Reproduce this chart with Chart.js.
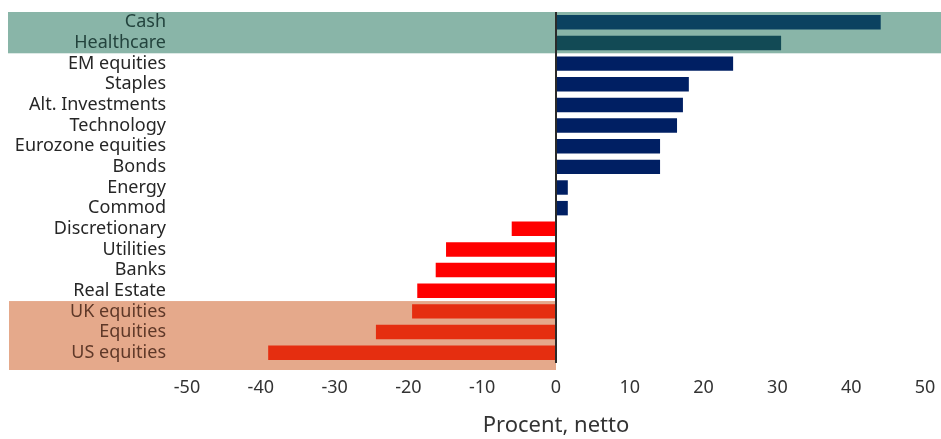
<!DOCTYPE html>
<html>
<head>
<meta charset="utf-8">
<script src="https://cdn.jsdelivr.net/npm/chart.js@4/dist/chart.umd.min.js"></script>
<style>
  html, body { margin: 0; padding: 0; background: #fff; }
  #wrap { width: 941px; height: 439px; position: relative; }
</style>
</head>
<body>
<div id="wrap"><canvas id="c"></canvas></div>
<script>
// Net allocation by asset class / sector, in percent
const categories = [
  'Cash', 'Healthcare', 'EM equities', 'Staples', 'Alt. Investments',
  'Technology', 'Eurozone equities', 'Bonds', 'Energy', 'Commod',
  'Discretionary', 'Utilities', 'Banks', 'Real Estate',
  'UK equities', 'Equities', 'US equities'
];
const netPercent = [
  44, 30.5, 24, 18, 17.2,
  16.4, 14.1, 14.1, 1.6, 1.6,
  -6, -14.9, -16.3, -18.8,
  -19.5, -24.4, -39
];
const xTicks = [-50, -40, -30, -20, -10, 0, 10, 20, 30, 40, 50];
const overweightGroup = ['Cash', 'Healthcare'];
const underweightGroup = ['UK equities', 'Equities', 'US equities'];

const barColor = (i) => {
  const name = categories[i], v = netPercent[i];
  if (name === 'Cash') return '#0b4260';
  if (name === 'Healthcare') return '#124a55';
  if (underweightGroup.includes(name)) return '#e52e10';
  return v >= 0 ? '#001f63' : '#ff0000';
};
const labelColor = (i) => {
  const name = categories[i];
  if (overweightGroup.includes(name)) return '#23433d';
  if (underweightGroup.includes(name)) return '#5e3828';
  return '#262626';
};

// Shaded bands behind the top and bottom groups
const bandPlugin = {
  id: 'bands',
  beforeDraw(chart) {
    const { ctx, scales: { x, y } } = chart;
    const step = y.getPixelForValue(1) - y.getPixelForValue(0);
    const idx = (n) => categories.indexOf(n);
    ctx.save();
    // top group
    const t0 = y.getPixelForValue(idx(overweightGroup[0])) - step / 2;
    const t1 = y.getPixelForValue(idx(overweightGroup[overweightGroup.length - 1])) + step / 2;
    ctx.fillStyle = '#89b5a8';
    ctx.fillRect(8, t0, chart.width - 8, t1 - t0);
    // bottom group
    const b0 = y.getPixelForValue(idx(underweightGroup[0])) - step / 2;
    const b1 = y.getPixelForValue(idx(underweightGroup[underweightGroup.length - 1])) + step / 2 + 7;
    ctx.fillStyle = '#e5a98b';
    ctx.fillRect(9, b0, x.getPixelForValue(0) - 9, b1 - b0);
    ctx.restore();
  }
};

new Chart(document.getElementById('c'), {
  type: 'bar',
  data: {
    labels: categories,
    datasets: [{
      data: netPercent,
      backgroundColor: (ctx) => barColor(ctx.dataIndex),
      borderWidth: 0,
      categoryPercentage: 1,
      barPercentage: 0.7
    }]
  },
  options: {
    indexAxis: 'y',
    responsive: true,
    maintainAspectRatio: false,
    animation: false,
    layout: { padding: { top: 12, right: 16, bottom: 0, left: 0 } },
    plugins: { legend: { display: false }, tooltip: { enabled: false } },
    scales: {
      x: {
        min: -50, max: 50,
        afterBuildTicks: (s) => { s.ticks = xTicks.map(v => ({ value: v })); },
        afterFit: (s) => { s.height = 76; s.paddingLeft = 0; s.paddingRight = 0; },
        border: { display: false },
        grid: {
          drawTicks: false,
          lineWidth: (c) => (c.tick && c.tick.value === 0 ? 2 : 0),
          color: '#2a2a2a'
        },
        ticks: {
          padding: 14,
          color: '#333',
          font: { family: 'Noto Sans', size: 18 }
        },
        title: {
          display: true,
          text: 'Procent, netto',
          color: '#333',
          padding: { top: 4, bottom: 0 },
          font: { family: 'Noto Sans', size: 22 }
        }
      },
      y: {
        afterFit: (s) => { s.width = 187; s.paddingTop = 0; s.paddingBottom = 0; },
        border: { display: false },
        grid: { display: false, drawTicks: false },
        ticks: {
          padding: 21,
          autoSkip: false,
          color: (c) => labelColor(c.index),
          font: { family: 'Noto Sans', size: 18 }
        }
      }
    }
  },
  plugins: [bandPlugin]
});
</script>
</body>
</html>
